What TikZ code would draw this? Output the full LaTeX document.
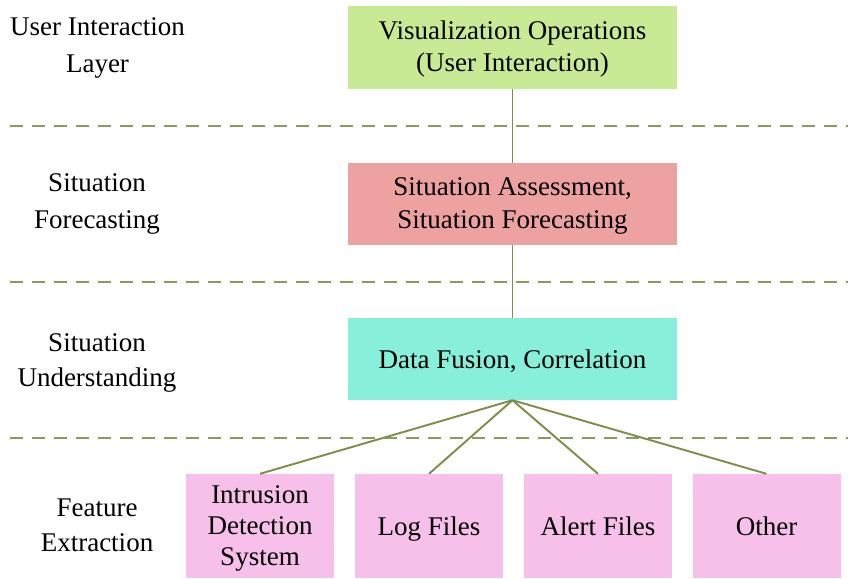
\documentclass[tikz,border=0pt]{standalone}
\usepackage{fontspec}
\setmainfont{Liberation Serif}
\definecolor{lineol}{HTML}{7D8D48}
\definecolor{dashol}{HTML}{8A9960}
\definecolor{cgreen}{HTML}{C8EA94}
\definecolor{cred}{HTML}{EDA1A1}
\definecolor{caqua}{HTML}{88EFDA}
\definecolor{cpink}{HTML}{F7C0EA}
% first baseline placed #1/2 above the node centre
\newcommand\txtup[3]{\raisebox{0pt}[0pt][#1]{\fontsize{27}{#2}\selectfont\begin{tabular}[t]{@{}c@{}}#3\end{tabular}}}
% baseline placed #1/2 below the node centre
\newcommand\txtdown[2]{\raisebox{0pt}[#1][0pt]{#2}}
\begin{document}
\begin{tikzpicture}[x=1pt,y=-1pt,
  txt/.style={font=\fontsize{27}{32}\selectfont, text=black, inner sep=0pt},
  bigbox/.style={txt, minimum width=329pt, minimum height=82pt},
  smallbox/.style={txt, fill=cpink, minimum width=148pt, minimum height=104pt},
  link/.style={draw=lineol, line width=1.9pt},
  sep/.style={draw=dashol, line width=2pt, dash pattern=on 13pt off 9pt}]
\useasboundingbox (0,0) rectangle (848,578);
\fill[white] (0,0) rectangle (848,578);
% separators
\draw[sep] (10,126) -- (848,126);
\draw[sep] (10,282) -- (848,282);
\draw[sep] (10,438) -- (848,438);
% main boxes
\node[bigbox, fill=cgreen] (vis) at (512.5,47.5) {\txtup{16.4pt}{32.4}{Visualization Operations\\(User Interaction)}};
\node[bigbox, fill=cred] (sit) at (512.5,204) {\txtup{18pt}{33}{Situation Assessment,\\Situation Forecasting}};
\node[bigbox, fill=caqua] (fus) at (512.5,359) {\txtdown{18pt}{Data Fusion, Correlation}};
% bottom boxes
\node[smallbox] (ids) at (260,526) {\txtup{45.4pt}{31}{Intrusion\\Detection\\System}};
\node[smallbox] (log) at (429,526) {\txtdown{19.4pt}{Log Files}};
\node[smallbox] (alert) at (598,526) {\txtdown{19.4pt}{Alert Files}};
\node[smallbox] (other) at (766.5,526) {\txtdown{18.6pt}{Other}};
% left labels (node placed on first baseline)
\node[txt] (l1) at (97.5,35.5) {\txtup{0pt}{36.5}{User Interaction\\Layer}};
\node[txt] (l2) at (97,191.7) {\txtup{0pt}{36.5}{Situation\\Forecasting}};
\node[txt] (l3) at (97,351.7) {\txtup{0pt}{35}{Situation\\Understanding}};
\node[txt] (l4) at (97,516.7) {\txtup{0pt}{35}{Feature\\Extraction}};
% connectors
\draw[link] (vis.south) -- (sit.north);
\draw[link] (sit.south) -- (fus.north);
\draw[link] (fus.south) -- (ids.north);
\draw[link] (fus.south) -- (log.north);
\draw[link] (fus.south) -- (alert.north);
\draw[link] (fus.south) -- (other.north);
\end{tikzpicture}
\end{document}
